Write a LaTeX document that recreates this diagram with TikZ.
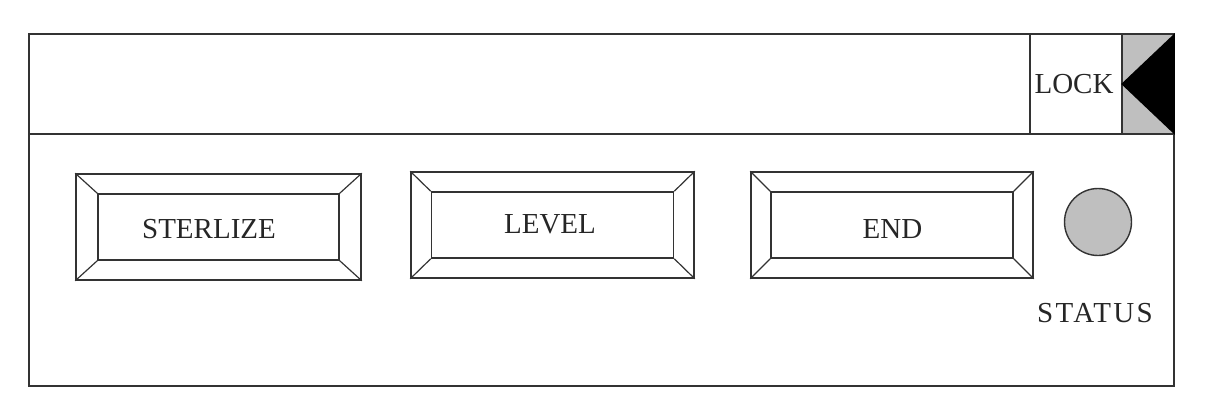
\documentclass[tikz,border=0pt]{standalone}
\usepackage{fontspec}
\setmainfont{Liberation Serif}
\begin{document}
\begin{tikzpicture}[x=1pt,y=-1pt,
  ln/.style={draw=black!80, line width=1.6pt},
  btnout/.style={ln, rectangle, inner sep=0pt, minimum height=106pt},
  btnin/.style={ln, rectangle, inner sep=0pt, minimum height=66pt, minimum width=242pt},
  lbl/.style={font=\fontsize{29}{32}\selectfont, inner sep=0pt, text=black!85}]
\useasboundingbox (0,0) rectangle (1213,409);
% panel
\node[ln, rectangle, inner sep=0pt, minimum width=1145pt, minimum height=352pt] (panel) at (601.5,210) {};
\coordinate (divL) at (29,134);
\coordinate (divR) at (1174,134);
\draw[ln] (divL) -- (divR);
% lock cell
\node[ln, rectangle, inner sep=0pt, minimum width=92pt, minimum height=100pt] (lock) at (1076,84) {};
\node[lbl, anchor=base] (locktxt) at (1074,94) {LOCK};
\node[ln, rectangle, inner sep=0pt, minimum width=52pt, minimum height=100pt, fill=black!25] (arrowcell) at (1148,84) {};
\fill[black] (arrowcell.north east) -- (arrowcell.west) -- (arrowcell.south east) -- cycle;
% buttons
\node[btnout, minimum width=285pt] (so) at (218.5,227) {};
\node[btnin, minimum width=241pt] (si) at (218.5,227) {};
\node[lbl, anchor=base] (st) at (209,238) {STERLIZE};
\node[btnout, minimum width=283pt] (lo) at (552.5,225) {};
\node[btnin] (li) at (552.5,225) {};
\node[lbl, anchor=base] (lt) at (550,233) {LEVEL};
\node[btnout, minimum width=282pt] (eo) at (892,225) {};
\node[btnin] (ei) at (892,225) {};
\node[lbl, anchor=base] (et) at (892.5,238) {END};
\foreach \b in {s,l,e}{
  \foreach \c in {north west,north east,south west,south east}{
    \draw[ln, line width=1.2pt] (\b o.\c) -- (\b i.\c);
  }
}
% status
\node[draw=black!80, line width=1.4pt, circle, fill=black!25, minimum size=67pt, inner sep=0pt] (led) at (1098,222) {};
\node[lbl, anchor=base, font=\fontsize{29}{32}\selectfont\addfontfeature{LetterSpace=8}] (status) at (1095,322) {STATUS};
\end{tikzpicture}
\end{document}
